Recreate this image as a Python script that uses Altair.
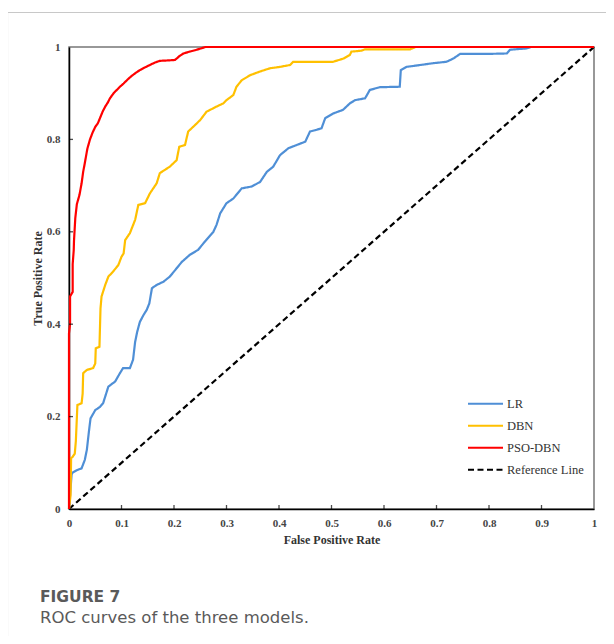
import altair as alt
import pandas as pd

# ---------------- data ----------------
series_names = ["LR", "DBN", "PSO-DBN", "Reference Line"]
series_colors = ["#4f8fd6", "#ffc000", "#ff0000", "#000000"]
series_dash = [[1, 0], [1, 0], [1, 0], [6, 3.5]]

lr_fpr = [0, 0.005, 0.007, 0.015, 0.024, 0.030, 0.034, 0.039, 0.041, 0.050, 0.059, 0.065,
          0.075, 0.088, 0.097, 0.103, 0.116, 0.122, 0.126, 0.130, 0.135, 0.142, 0.148,
          0.153, 0.158, 0.167, 0.180, 0.192, 0.205, 0.215, 0.230, 0.246, 0.256, 0.275,
          0.281, 0.288, 0.300, 0.313, 0.329, 0.348, 0.364, 0.377, 0.389, 0.402, 0.418,
          0.434, 0.450, 0.459, 0.469, 0.481, 0.488, 0.503, 0.522, 0.535, 0.545, 0.564,
          0.573, 0.592, 0.630, 0.632, 0.643, 0.669, 0.694, 0.719, 0.732, 0.745, 0.796,
          0.834, 0.840, 0.872, 0.880, 1.0]
lr_tpr = [0, 0.075, 0.079, 0.084, 0.088, 0.106, 0.128, 0.178, 0.196, 0.214, 0.221, 0.229,
          0.265, 0.276, 0.294, 0.305, 0.305, 0.323, 0.362, 0.384, 0.405, 0.420, 0.431,
          0.445, 0.478, 0.485, 0.492, 0.503, 0.521, 0.535, 0.550, 0.561, 0.575, 0.600,
          0.615, 0.640, 0.662, 0.672, 0.694, 0.698, 0.708, 0.730, 0.741, 0.766, 0.781,
          0.788, 0.795, 0.817, 0.820, 0.824, 0.846, 0.856, 0.864, 0.878, 0.885, 0.889,
          0.907, 0.913, 0.914, 0.950, 0.957, 0.961, 0.965, 0.968, 0.975, 0.985, 0.985,
          0.986, 0.994, 0.997, 1.0, 1.0]

dbn_fpr = [0, 0.003, 0.004, 0.007, 0.011, 0.013, 0.016, 0.024, 0.026, 0.027, 0.034, 0.046,
           0.050, 0.051, 0.058, 0.060, 0.062, 0.069, 0.075, 0.084, 0.094, 0.100, 0.104,
           0.107, 0.116, 0.126, 0.132, 0.145, 0.154, 0.167, 0.173, 0.192, 0.205, 0.210,
           0.221, 0.227, 0.240, 0.250, 0.262, 0.281, 0.294, 0.300, 0.313, 0.319, 0.329,
           0.345, 0.364, 0.383, 0.402, 0.421, 0.427, 0.459, 0.503, 0.523, 0.535, 0.538,
           0.557, 0.564, 0.650, 0.660, 1.0]
dbn_tpr = [0, 0.030, 0.110, 0.113, 0.120, 0.146, 0.225, 0.229, 0.250, 0.294, 0.301, 0.305,
           0.315, 0.348, 0.351, 0.434, 0.460, 0.485, 0.503, 0.514, 0.528, 0.546, 0.553,
           0.582, 0.597, 0.626, 0.658, 0.662, 0.683, 0.705, 0.727, 0.741, 0.755, 0.784,
           0.788, 0.817, 0.831, 0.842, 0.860, 0.871, 0.878, 0.885, 0.896, 0.914, 0.928,
           0.939, 0.947, 0.954, 0.957, 0.961, 0.968, 0.968, 0.968, 0.975, 0.983, 0.990,
           0.992, 0.995, 0.995, 1.0, 1.0]

pso_fpr = [0, 0, 0.002, 0.002, 0.007, 0.007, 0.009, 0.0095, 0.012, 0.015, 0.020, 0.024,
           0.027, 0.030, 0.035, 0.040, 0.045, 0.050, 0.055, 0.059, 0.064, 0.069, 0.074,
           0.078, 0.085, 0.091, 0.098, 0.104, 0.112, 0.119, 0.127, 0.135, 0.145, 0.154,
           0.163, 0.173, 0.190, 0.202, 0.210, 0.218, 0.230, 0.243, 0.260, 1.0]
pso_tpr = [0, 0.38, 0.40, 0.46, 0.47, 0.53, 0.56, 0.58, 0.63, 0.66, 0.68, 0.705,
           0.73, 0.748, 0.78, 0.80, 0.815, 0.827, 0.835, 0.846, 0.86, 0.871, 0.88,
           0.889, 0.90, 0.907, 0.915, 0.921, 0.93, 0.937, 0.944, 0.95, 0.956, 0.961,
           0.966, 0.97, 0.971, 0.972, 0.98, 0.986, 0.99, 0.994, 1.0, 1.0]

ref_fpr = [0, 1]
ref_tpr = [0, 1]

x_tick_values = [0, 0.1, 0.2, 0.3, 0.4, 0.5, 0.6, 0.7, 0.8, 0.9, 1]
y_tick_values = [0, 0.2, 0.4, 0.6, 0.8, 1]
x_inner_ticks = [0.1, 0.2, 0.3, 0.4, 0.5, 0.6, 0.7, 0.8, 0.9]
y_inner_ticks = [0.2, 0.4, 0.6, 0.8]

caption_title = ["FIGURE 7"]
caption_text = ["ROC curves of the three models."]

# ---------------- tables ----------------
rows = []
for name, xs_, ys_ in [("Reference Line", ref_fpr, ref_tpr), ("LR", lr_fpr, lr_tpr),
                       ("DBN", dbn_fpr, dbn_tpr), ("PSO-DBN", pso_fpr, pso_tpr)]:
    for i, (a, b) in enumerate(zip(xs_, ys_)):
        rows.append({"series": name, "fpr": a, "tpr": b, "idx": i})
df = pd.DataFrame(rows)

W, H = 525, 462
PL, PT = 61, 39
SERIF = "Liberation Serif"
SANS = "DejaVu Sans"

xscale = alt.Scale(domain=[0, 1], nice=False, zero=False)
yscale = alt.Scale(domain=[0, 1], nice=False, zero=False)

legend = alt.Legend(title=None, orient="none", legendX=398, legendY=346,
                    symbolType="stroke", symbolSize=1225, symbolStrokeWidth=2,
                    clipHeight=21.7, rowPadding=0, padding=0, labelOffset=3,
                    labelFont=SERIF, labelFontSize=12.5, labelColor="#333333")

lines = alt.Chart(df).mark_line(strokeWidth=2.2).encode(
    x=alt.X("fpr:Q", scale=xscale,
            axis=alt.Axis(values=x_tick_values, format="~g", title="False Positive Rate",
                          ticks=False, grid=False, labelPadding=8, titlePadding=6,
                          labelFlush=False, labelOverlap=False)),
    y=alt.Y("tpr:Q", scale=yscale,
            axis=alt.Axis(values=y_tick_values, format="~g", title="True Positive Rate",
                          ticks=False, grid=False, labelPadding=9, titlePadding=2,
                          labelFlush=False, labelOverlap=False)),
    color=alt.Color("series:N", scale=alt.Scale(domain=series_names, range=series_colors),
                    legend=legend),
    strokeDash=alt.StrokeDash("series:N", scale=alt.Scale(domain=series_names, range=series_dash),
                              legend=legend),
    order=alt.Order("idx:Q"),
)

xticks = alt.Chart(pd.DataFrame({"fpr": x_inner_ticks})).mark_tick(
    orient="vertical", size=4, thickness=1.3, color="black").encode(
    x=alt.X("fpr:Q", scale=xscale), y=alt.value(H - 2))

yticks = alt.Chart(pd.DataFrame({"tpr": y_inner_ticks})).mark_tick(
    orient="horizontal", size=4, thickness=1.3, color="black").encode(
    y=alt.Y("tpr:Q", scale=yscale), x=alt.value(2))

box = alt.Chart(pd.DataFrame({"k": [0]})).mark_rect(
    fill="white", fillOpacity=0, stroke="#c8c8c8", strokeWidth=1.2).encode(
    x=alt.value(7 - 8 - PL + 0.5), x2=alt.value(800),
    y=alt.value(12 - 8 - PT + 0.5), y2=alt.value(800))

cap1 = alt.Chart(pd.DataFrame({"t": caption_title})).mark_text(
    align="left", baseline="alphabetic", font=SANS, fontSize=15.5,
    fontWeight="bold", color="#5a5a5a").encode(
    text="t:N", x=alt.value(40 - 8 - PL), y=alt.value(602 - 8 - PT))

cap2 = alt.Chart(pd.DataFrame({"t": caption_text})).mark_text(
    align="left", baseline="alphabetic", font=SANS, fontSize=16.5,
    color="#5a5a5a").encode(
    text="t:N", x=alt.value(40 - 8 - PL), y=alt.value(623 - 8 - PT))

chart = alt.layer(box, lines, xticks, yticks, cap1, cap2).properties(
    width=W, height=H,
    padding={"left": PL, "top": PT, "right": 12, "bottom": 127},
    autosize=alt.AutoSizeParams(type="none"),
).configure_view(
    stroke="#777777", strokeWidth=1.5
).configure_axis(
    domainColor="black", domainWidth=1.5,
    labelFont=SERIF, labelFontSize=11, labelFontWeight="bold", labelColor="#444444",
    titleFont=SERIF, titleFontSize=12, titleFontWeight="bold", titleColor="#333333",
)

chart.save("out.html", embed_options={"renderer": "svg", "actions": False})
